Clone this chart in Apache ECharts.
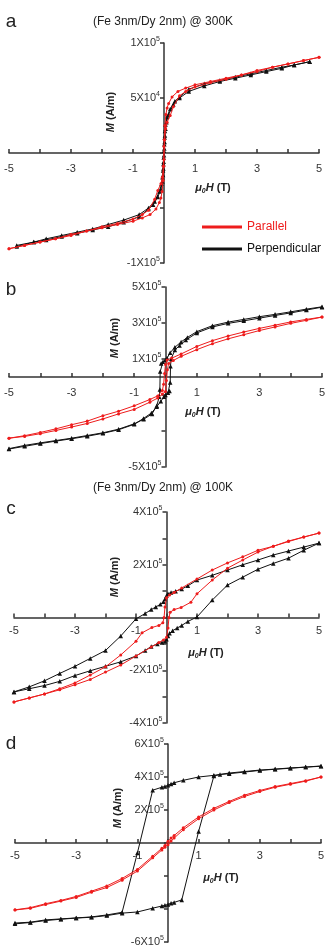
<!DOCTYPE html>
<html>
<head>
<meta charset="utf-8">
<script src="https://cdn.jsdelivr.net/npm/echarts@6/dist/echarts.min.js"></script>
<style>
  html, body { margin: 0; padding: 0; background: #fff; }
  #chart { width: 329px; height: 949px; }
</style>
</head>
<body>
<div id="chart"></div>
<script>
// field values (T) and magnetisation
// panel a, M in units of 1e4 A/m
var aParDown = [[5,8.7],[4.5,8.4],[4,8.1],[3.5,7.8],[3,7.5],[2.5,7.1],[2,6.8],[1.5,6.5],[1,6.2],[0.7,5.9],[0.45,5.6],[0.26,5.1],[0.15,4.5],[0.1,4.1],[0.06,3.5],[0.03,2.5],[0.01,1.2],[0,0.6],[-0.02,-1.2],[-0.05,-2.2],[-0.1,-2.8],[-0.2,-3.4],[-0.3,-4.2],[-0.5,-5.2],[-0.7,-5.6],[-1,-6.0],[-1.5,-6.4],[-2,-6.7],[-2.5,-7.1],[-3,-7.4],[-3.5,-7.8],[-4,-8.1],[-4.5,-8.4],[-5,-8.7]];
var aParUp = [[-5,-8.7],[-4.5,-8.4],[-4,-8.1],[-3.5,-7.8],[-3,-7.5],[-2.5,-7.1],[-2,-6.8],[-1.5,-6.5],[-1,-6.2],[-0.7,-5.9],[-0.45,-5.6],[-0.26,-5.1],[-0.15,-4.5],[-0.1,-4.1],[-0.06,-3.5],[-0.03,-2.5],[-0.01,-1.2],[0,-0.6],[0.02,1.2],[0.05,2.2],[0.1,2.8],[0.2,3.4],[0.3,4.2],[0.5,5.2],[0.7,5.6],[1,6.0],[1.5,6.4],[2,6.7],[2.5,7.1],[3,7.4],[3.5,7.8],[4,8.1],[4.5,8.4],[5,8.7]];
var aPerDown = [[4.7,8.3],[4.2,8.0],[3.8,7.8],[3.3,7.5],[2.8,7.2],[2.3,6.9],[1.8,6.6],[1.3,6.3],[0.8,5.8],[0.5,5.1],[0.35,4.7],[0.2,4.0],[0.1,3.3],[0.05,2.6],[0.03,2.0],[0.02,1.4],[0.01,0.8],[0,0.2],[-0.01,-0.4],[-0.02,-1.0],[-0.03,-1.6],[-0.05,-2.2],[-0.08,-2.8],[-0.15,-3.5],[-0.3,-4.4],[-0.5,-5.0],[-0.8,-5.6],[-1.3,-6.1],[-1.8,-6.5],[-2.3,-6.9],[-2.8,-7.2],[-3.3,-7.5],[-3.8,-7.8],[-4.2,-8.1],[-4.75,-8.4]];
var aPerUp = [[-4.75,-8.5],[-4.2,-8.1],[-3.8,-7.9],[-3.3,-7.6],[-2.8,-7.3],[-2.3,-7.0],[-1.8,-6.7],[-1.3,-6.3],[-0.8,-5.8],[-0.5,-5.1],[-0.35,-4.7],[-0.2,-4.0],[-0.1,-3.3],[-0.05,-2.6],[-0.03,-2.0],[-0.02,-1.4],[-0.01,-0.8],[0,-0.2],[0.01,0.4],[0.02,1.0],[0.03,1.6],[0.05,2.2],[0.08,2.8],[0.15,3.5],[0.3,4.4],[0.5,5.0],[0.8,5.6],[1.3,6.1],[1.8,6.5],[2.3,6.8],[2.8,7.1],[3.3,7.4],[3.8,7.7],[4.2,8.0],[4.7,8.3]];

// panel b, M in units of 1e5 A/m
var bParDown = [[5,3.33],[4.5,3.2],[4,3.06],[3.5,2.88],[3,2.7],[2.5,2.5],[2,2.28],[1.5,2.02],[1,1.7],[0.5,1.28],[0.2,1.05],[0.05,0.95],[0,0.7],[-0.03,0.2],[-0.06,-0.4],[-0.1,-0.75],[-0.25,-1.05],[-0.5,-1.25],[-1,-1.6],[-1.5,-1.9],[-2,-2.15],[-2.5,-2.45],[-3,-2.65],[-3.5,-2.88],[-4,-3.08],[-4.5,-3.26],[-5,-3.4]];
var bParUp = [[-5,-3.4],[-4.5,-3.3],[-4,-3.15],[-3.5,-2.97],[-3,-2.78],[-2.5,-2.58],[-2,-2.33],[-1.5,-2.05],[-1,-1.8],[-0.5,-1.4],[-0.25,-1.17],[-0.1,-0.95],[0,-0.8],[0.03,-0.2],[0.06,0.4],[0.1,0.75],[0.25,0.92],[0.5,1.15],[1,1.52],[1.5,1.85],[2,2.12],[2.5,2.35],[3,2.58],[3.5,2.78],[4,2.98],[4.5,3.15],[5,3.33]];
var bPerDown = [[5,3.9],[4.5,3.77],[4,3.62],[3.5,3.48],[3,3.35],[2.5,3.2],[2,3.05],[1.5,2.85],[1,2.52],[0.7,2.2],[0.5,1.95],[0.3,1.65],[0.15,1.35],[0.05,1.05],[0,0.95],[-0.08,0.85],[-0.14,0.75],[-0.17,0.3],[-0.18,-0.7],[-0.2,-1.1],[-0.28,-1.6],[-0.43,-2.05],[-0.7,-2.35],[-1,-2.6],[-1.5,-2.9],[-2,-3.1],[-2.5,-3.25],[-3,-3.4],[-3.5,-3.53],[-4,-3.66],[-4.5,-3.8],[-5,-3.98]];
var bPerUp = [[-5,-4.0],[-4.5,-3.85],[-4,-3.7],[-3.5,-3.56],[-3,-3.43],[-2.5,-3.29],[-2,-3.13],[-1.5,-2.93],[-1,-2.63],[-0.7,-2.3],[-0.45,-2.0],[-0.28,-1.65],[-0.15,-1.35],[-0.05,-1.1],[0,-1.0],[0.08,-0.88],[0.13,-0.78],[0.15,-0.3],[0.16,0.6],[0.18,1.0],[0.3,1.5],[0.45,1.75],[0.65,2.05],[1,2.45],[1.5,2.78],[2,2.98],[2.5,3.12],[3,3.27],[3.5,3.42],[4,3.56],[4.5,3.72],[5,3.88]];

// panel c, M in units of 1e5 A/m
var cParDown = [[5,3.2],[4.5,3.05],[4,2.88],[3.5,2.7],[3,2.55],[2.5,2.3],[2,2.07],[1.5,1.8],[1,1.46],[0.5,1.12],[0.25,0.95],[0.1,0.85],[0,0.75],[-0.05,0.4],[-0.08,0.0],[-0.12,-0.2],[-0.25,-0.3],[-0.48,-0.38],[-0.8,-0.58],[-1,-0.9],[-1.5,-1.42],[-2,-1.87],[-2.5,-2.18],[-3,-2.48],[-3.5,-2.7],[-4,-2.9],[-4.5,-3.05],[-5,-3.2]];
var cParUp = [[-5,-3.2],[-4.5,-3.05],[-4,-2.9],[-3.5,-2.74],[-3,-2.55],[-2.5,-2.35],[-2,-2.07],[-1.5,-1.8],[-1,-1.46],[-0.5,-1.12],[-0.25,-0.95],[-0.1,-0.85],[0,-0.75],[0.05,-0.4],[0.08,0.0],[0.12,0.2],[0.25,0.3],[0.48,0.38],[0.8,0.58],[1,0.9],[1.5,1.42],[2,1.87],[2.5,2.18],[3,2.48],[3.5,2.7],[4,2.9],[4.5,3.05],[5,3.2]];
var cPerDown = [[5,2.82],[4.5,2.67],[4,2.52],[3.5,2.37],[3,2.18],[2.5,2.0],[2,1.8],[1.5,1.6],[1,1.42],[0.7,1.2],[0.5,1.08],[0.3,1.0],[0.15,0.95],[0.05,0.9],[0,0.82],[-0.05,0.7],[-0.1,0.6],[-0.2,0.5],[-0.35,0.4],[-0.5,0.3],[-0.7,0.15],[-1,-0.05],[-1.5,-0.7],[-2,-1.25],[-2.5,-1.55],[-3,-1.85],[-3.5,-2.12],[-4,-2.4],[-4.5,-2.63],[-5,-2.82]];
var cPerUp = [[-5,-2.82],[-4.5,-2.7],[-4,-2.58],[-3.5,-2.42],[-3,-2.2],[-2.5,-2.02],[-2,-1.85],[-1.5,-1.68],[-1,-1.46],[-0.7,-1.25],[-0.5,-1.1],[-0.3,-1.0],[-0.15,-0.95],[-0.05,-0.9],[0,-0.82],[0.05,-0.7],[0.1,-0.6],[0.2,-0.5],[0.35,-0.4],[0.5,-0.3],[0.7,-0.15],[1,0.02],[1.5,0.66],[2,1.23],[2.5,1.53],[3,1.83],[3.5,2.05],[4,2.25],[4.5,2.55],[5,2.82]];

// panel d, M in units of 1e5 A/m
var dParDown = [[5,4.0],[4.5,3.78],[4,3.6],[3.5,3.42],[3,3.18],[2.5,2.9],[2,2.52],[1.5,2.1],[1,1.58],[0.5,0.92],[0.2,0.45],[0.1,0.3],[0,0.1],[-0.1,-0.15],[-0.2,-0.32],[-0.5,-0.8],[-1,-1.6],[-1.5,-2.15],[-2,-2.6],[-2.5,-2.92],[-3,-3.24],[-3.5,-3.48],[-4,-3.68],[-4.5,-3.92],[-5,-4.05]];
var dParUp = [[-5,-4.06],[-4.5,-3.96],[-4,-3.73],[-3.5,-3.52],[-3,-3.3],[-2.5,-2.98],[-2,-2.7],[-1.5,-2.25],[-1,-1.7],[-0.5,-0.9],[-0.2,-0.42],[-0.1,-0.25],[0,-0.1],[0.1,0.12],[0.2,0.3],[0.5,0.8],[1,1.47],[1.5,2.0],[2,2.45],[2.5,2.82],[3,3.12],[3.5,3.38],[4,3.56],[4.5,3.75],[5,4.0]];
var dPerDown = [[5,4.67],[4.5,4.6],[4,4.55],[3.5,4.48],[3,4.42],[2.5,4.33],[2,4.24],[1.5,4.1],[1,4.0],[0.5,3.8],[0.2,3.65],[0.1,3.58],[0,3.5],[-0.1,3.42],[-0.2,3.38],[-0.5,3.2],[-1,-0.6],[-1.5,-4.2],[-2,-4.36],[-2.5,-4.48],[-3,-4.54],[-3.5,-4.6],[-4,-4.66],[-4.5,-4.8],[-5,-4.85]];
var dPerUp = [[-5,-4.9],[-4.5,-4.82],[-4,-4.7],[-3.5,-4.62],[-3,-4.55],[-2.5,-4.5],[-2,-4.4],[-1.5,-4.25],[-1,-4.18],[-0.5,-3.95],[-0.2,-3.82],[-0.1,-3.78],[0,-3.72],[0.1,-3.65],[0.2,-3.6],[0.45,-3.45],[1,0.7],[1.5,4.06],[1.7,4.15],[2,4.2],[2.5,4.3],[3,4.4],[3.5,4.47],[4,4.53],[4.5,4.6],[5,4.65]];

var units = [1e4, 1e5, 1e5, 1e5];

// tick labels
var xLabels = [-5, -3, -1, 1, 3, 5];
var aYLabels = [[1e5, '1X10', '5'], [5e4, '5X10', '4'], [-1e5, '-1X10', '5']];
var bYLabels = [[5e5, '5X10', '5'], [3e5, '3X10', '5'], [1e5, '1X10', '5'], [-5e5, '-5X10', '5']];
var cYLabels = [[4e5, '4X10', '5'], [2e5, '2X10', '5'], [-2e5, '-2X10', '5'], [-4e5, '-4X10', '5']];
var dYLabels = [[6e5, '6X10', '5'], [4e5, '4X10', '5'], [2e5, '2X10', '5'], [-6e5, '-6X10', '5']];

var FONT = '"Liberation Sans", Arial, sans-serif';
var RED = '#ee1c1c';
var BLACK = '#111111';

var grids = [
    {left: 9, top: 43, width: 310, height: 220},
    {left: 9, top: 287, width: 313, height: 180},
    {left: 14, top: 512, width: 305, height: 211},
    {left: 15, top: 744, width: 306, height: 198}
];
var yRanges = [[-1e5, 1e5, 5e4], [-5e5, 5e5, 2e5], [-4e5, 4e5, 1e5], [-6e5, 6e5, 2e5]];
var yLabelSets = [aYLabels, bYLabels, cYLabels, dYLabels];
var xLabelMargins = [10, 10, 8, 7];
var panels = [
    [aParDown, aParUp, aPerDown, aPerUp],
    [bParDown, bParUp, bPerDown, bPerUp],
    [cParDown, cParUp, cPerDown, cPerUp],
    [dParDown, dParUp, dPerDown, dPerUp]
];

var axisLineStyle = {color: '#333', width: 1.5};

var xAxes = [], yAxes = [], series = [];
grids.forEach(function (g, i) {
    // both axes cross at zero: shift them into the middle of the grid
    xAxes.push({
        type: 'value', gridIndex: i, min: -5, max: 5, interval: 1,
        position: 'bottom', offset: -g.height / 2,
        axisLine: {onZero: false, lineStyle: axisLineStyle},
        axisTick: {inside: true, length: 4, lineStyle: axisLineStyle},
        splitLine: {show: false},
        axisLabel: {
            margin: xLabelMargins[i], color: '#333', fontFamily: FONT, fontSize: 11,
            formatter: function (v) { return xLabels.indexOf(v) >= 0 ? String(v) : ''; }
        }
    });
    var labels = yLabelSets[i];
    yAxes.push({
        type: 'value', gridIndex: i, min: yRanges[i][0], max: yRanges[i][1], interval: yRanges[i][2],
        position: 'left', offset: -g.width / 2,
        axisLine: {onZero: false, lineStyle: axisLineStyle},
        axisTick: {length: 4, lineStyle: axisLineStyle},
        splitLine: {show: false},
        axisLabel: {
            margin: 4, color: '#333', fontFamily: FONT,
            formatter: function (v) {
                for (var k = 0; k < labels.length; k++) {
                    if (Math.abs(labels[k][0] - v) < 1) return '{n|' + labels[k][1] + '}{s|' + labels[k][2] + '}';
                }
                return '';
            },
            rich: {
                n: {fontSize: 11, fontFamily: FONT, color: '#333'},
                s: {fontSize: 7, fontFamily: FONT, color: '#333', padding: [0, 0, 7, 0]}
            }
        }
    });
    var u = units[i];
    panels[i].forEach(function (branch, j) {
        var isPar = j < 2;
        series.push({
            name: isPar ? 'Parallel' : 'Perpendicular',
            type: 'line', xAxisIndex: i, yAxisIndex: i,
            data: branch.map(function (p) { return [p[0], p[1] * u]; }),
            symbol: isPar ? 'circle' : 'triangle',
            symbolSize: isPar ? 3 : 4.5,
            lineStyle: {color: isPar ? RED : BLACK, width: 1},
            itemStyle: {color: isPar ? RED : BLACK},
            z: isPar ? 3 : 2,
            clip: false
        });
    });
});

var graphics = [];
function txt(x, y, text, font) {
    graphics.push({type: 'text', x: x, y: y, style: {
        text: text, fill: '#222', font: font, align: 'center', verticalAlign: 'middle'
    }});
}
var titles = [['(Fe 3nm/Dy 2nm) @ 300K', 163, 22], ['(Fe 3nm/Dy 2nm) @ 100K', 163, 488]];
titles.forEach(function (t) { txt(t[1], t[2], t[0], '12px ' + FONT); });
var letters = [['a', 11, 22], ['b', 11, 290], ['c', 11, 509], ['d', 11, 744]];
letters.forEach(function (t) { txt(t[1], t[2], t[0], '19px ' + FONT); });
var mNames = [[111, 112], [115, 338], [115, 577], [118, 808]];
var hNames = [[213, 188], [203, 412], [206, 653], [221, 878]];
var richNames = {
    it: {fontStyle: 'italic', fontWeight: 'bold', fontSize: 11, fontFamily: FONT, fill: '#222'},
    b: {fontWeight: 'bold', fontSize: 11, fontFamily: FONT, fill: '#222'},
    sub: {fontStyle: 'italic', fontWeight: 'bold', fontSize: 7, fontFamily: FONT, fill: '#222', padding: [6, 0, 0, 0]}
};
mNames.forEach(function (p) {
    graphics.push({type: 'text', x: p[0], y: p[1], rotation: Math.PI / 2,
        style: {text: '{it|M}{b| (A/m)}', rich: richNames, align: 'center', verticalAlign: 'middle'}});
});
hNames.forEach(function (p) {
    graphics.push({type: 'text', x: p[0], y: p[1],
        style: {text: '{it|\u03bc}{sub|0}{it|H}{b| (T)}', rich: richNames, align: 'center', verticalAlign: 'middle'}});
});

var myChart = echarts.init(document.getElementById('chart'));
var option = {
    animation: false,
    backgroundColor: '#fff',
    grid: grids,
    xAxis: xAxes,
    yAxis: yAxes,
    legend: {
        left: 197, top: 215, orient: 'vertical',
        icon: 'rect', itemWidth: 40, itemHeight: 3, itemGap: 8,
        textStyle: {fontFamily: FONT, fontSize: 12, lineHeight: 14},
        data: [
            {name: 'Parallel', textStyle: {color: RED}},
            {name: 'Perpendicular', textStyle: {color: BLACK}}
        ]
    },
    series: series,
    graphic: graphics
};
myChart.setOption(option);
</script>
</body>
</html>
